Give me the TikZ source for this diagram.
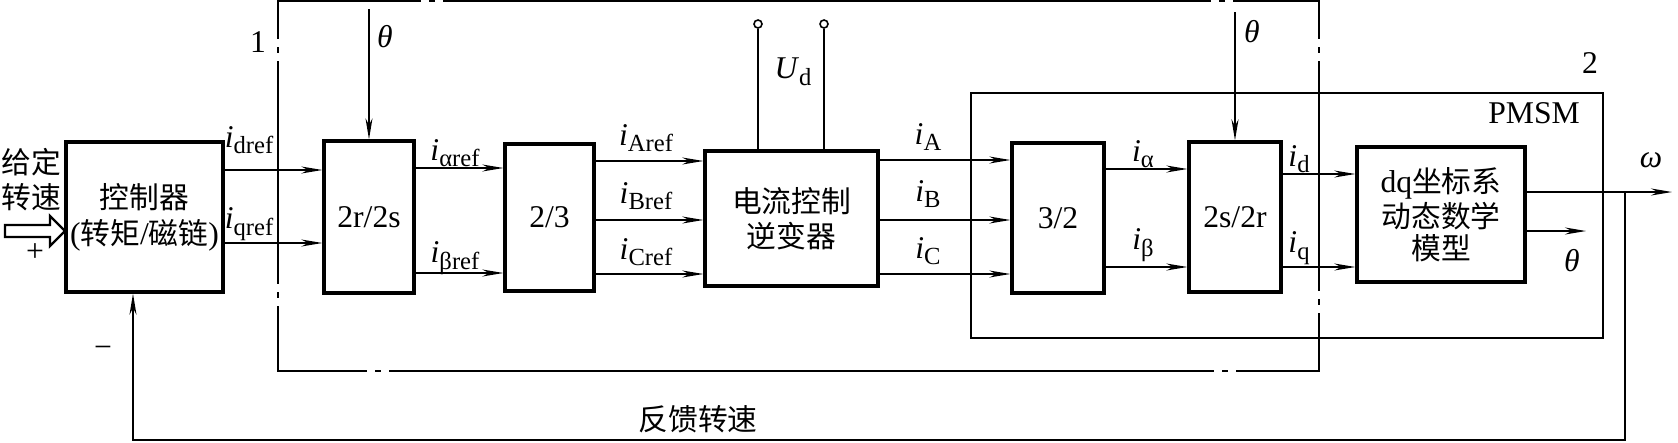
\documentclass[tikz,border=0pt]{standalone}
\usepackage{fontspec}
\setmainfont{Liberation Serif}
\newfontfamily\cjk{Noto Sans CJK SC}[Scale=0.94]
\usetikzlibrary{arrows.meta,calc}

\newcommand\dl[1]{\textit{i}\raisebox{-0.45ex}{\fontsize{7}{7}\selectfont #1}}

\begin{document}
\begin{tikzpicture}[
  x=0.01cm, y=-0.01cm,
  font=\fontsize{9}{9.5}\selectfont,
  kuai/.style={draw, line width=0.9pt, inner sep=0pt, align=center},
  zh/.style={font=\fontsize{9}{10}\selectfont\cjk},
  jt/.style={line width=0.45pt, -{Stealth[length=6pt,width=2pt]}},
  xian/.style={line width=0.45pt},
  biao/.style={inner sep=0pt},
  kuang/.style={line width=0.5pt},
  duanzi/.style={circle, draw, line width=0.45pt, inner sep=0pt,
                 minimum size=0.08cm},
]
\useasboundingbox (0,0) rectangle (1678,442);
% --- Frame 1 (dash-dot) and PMSM frame 2 -------------------------------------
\draw[kuang] (278,1) rectangle (1319,371);
\foreach \x in {432,1222} {
  \fill[white] (\x-11,-2) rectangle (\x+11,4);
  \draw[kuang] (\x-3,1) -- (\x+3,1);
}
\foreach \x in {378,1225} {
  \fill[white] (\x-11,368) rectangle (\x+11,374);
  \draw[kuang] (\x-3,371) -- (\x+3,371);
}
\foreach \y in {50,295} {
  \fill[white] (275,\y-11) rectangle (281,\y+11);
  \draw[kuang] (278,\y-3) -- (278,\y+3);
}
\foreach \y in {50,302} {
  \fill[white] (1316,\y-11) rectangle (1322,\y+11);
  \draw[kuang] (1319,\y-3) -- (1319,\y+3);
}
\draw[line width=0.6pt] (971,93) rectangle (1603,338);
\node[biao] (n1) at (258,42) {1};
\node[biao] (n2) at (1590,63) {2};
\node[biao] (pmsm) at (1534,113) {PMSM};
% --- Blocks ------------------------------------------------------------------
\node[kuai, minimum width=1.57cm, minimum height=1.50cm,
      font=\fontsize{9}{10.2}\selectfont] (kz) at (144.5,217)
  {{\cjk 控制器}\\({\cjk 转矩}/{\cjk 磁链})};
\node[kuai, minimum width=0.90cm, minimum height=1.52cm] (rs) at (369,217) {2r/2s};
\node[kuai, minimum width=0.89cm, minimum height=1.47cm] (ls) at (549.5,217.5) {2/3};
\node[kuai, zh, minimum width=1.73cm, minimum height=1.35cm] (nb) at (791.5,218.5)
  {电流控制\\逆变器};
\node[kuai, minimum width=0.92cm, minimum height=1.50cm] (sl) at (1058,218) {3/2};
\node[kuai, minimum width=0.92cm, minimum height=1.50cm] (sr) at (1235,217) {2s/2r};
\node[kuai, minimum width=1.68cm, minimum height=1.35cm,
      font=\fontsize{9}{9}\selectfont] (dq) at (1441,214.5)
  {dq{\cjk 坐标系}\\{\cjk 动态数学}\\{\cjk 模型}};
% --- Input -------------------------------------------------------------------
\node[biao, zh, align=center] (gd) at (31,180) {给定\\转速};
\draw[line width=0.7pt] (5,225) -- (50,225) -- (50,216) -- (65,231)
  -- (50,246) -- (50,237) -- (5,237) -- cycle;
\node[biao] (plus) at (35,253) {+};
\node[biao] (minus) at (103,352) {−};
% --- Signals -----------------------------------------------------------------
\draw[jt] (kz.east |- 0,170) -- (rs.west |- 0,170);
\draw[jt] (kz.east |- 0,243) -- (rs.west |- 0,243);
\node[biao] (l-id) at (249,140) {\dl{dref}};
\node[biao] (l-iq) at (249,224) {\dl{qref}};
\draw[jt] (rs.north |- 0,9) -- (rs.north);
\node[biao] (th1) at (385,37) {\textit{θ}};
\draw[jt] (rs.east |- 0,168) -- (ls.west |- 0,168);
\draw[jt] (rs.east |- 0,273) -- (ls.west |- 0,273);
\node[biao] (l-ia) at (455,153) {\dl{αref}};
\node[biao] (l-ib) at (455,258) {\dl{βref}};
\foreach \y in {161,220,274}
  \draw[jt] (ls.east |- 0,\y) -- (nb.west |- 0,\y);
\node[biao] (l-iA) at (646,138) {\dl{Aref}};
\node[biao] (l-iB) at (646,196) {\dl{Bref}};
\node[biao] (l-iC) at (646,252) {\dl{Cref}};
\node[duanzi] (u1) at (758,24) {};
\node[duanzi] (u2) at (824,24) {};
\draw[xian] (u1) -- (u1 |- nb.north);
\draw[xian] (u2) -- (u2 |- nb.north);
\node[biao] (ud) at (793,72) {\textit{U}\raisebox{-0.45ex}{\fontsize{7}{7}\selectfont d}};
\foreach \y in {160,220,274}
  \draw[jt] (nb.east |- 0,\y) -- (sl.west |- 0,\y);
\node[biao] (l-ja) at (928,137) {\dl{A}};
\node[biao] (l-jb) at (928,194) {\dl{B}};
\node[biao] (l-jc) at (928,251) {\dl{C}};
\draw[jt] (sl.east |- 0,169) -- (sr.west |- 0,169);
\draw[jt] (sl.east |- 0,267) -- (sr.west |- 0,267);
\node[biao] (l-al) at (1143,154) {\dl{α}};
\node[biao] (l-be) at (1143,245) {\dl{β}};
\draw[jt] (sr.north |- 0,12) -- (sr.north);
\node[biao] (th2) at (1252,32) {\textit{θ}};
\draw[jt] (sr.east |- 0,174) -- (dq.west |- 0,174);
\draw[jt] (sr.east |- 0,267) -- (dq.west |- 0,267);
\node[biao] (l-d) at (1299,159) {\dl{d}};
\node[biao] (l-q) at (1299,248) {\dl{q}};
% --- Outputs and feedback ----------------------------------------------------
\coordinate (wend) at (1672,192);
\coordinate (thend) at (1586,231);
\coordinate (fz) at (1625,192);
\coordinate (fb) at (133,440);
\draw[jt] (dq.east |- wend) -- (wend);
\draw[jt] (dq.east |- thend) -- (thend);
\node[biao] (om) at (1651,160) {\textit{ω}};
\node[biao] (th3) at (1572,261) {\textit{θ}};
\draw[jt] (fz) |- (fb) -- (kz.south -| fb);
\node[biao, zh] (fk) at (698,419) {反馈转速};
\end{tikzpicture}
\end{document}
